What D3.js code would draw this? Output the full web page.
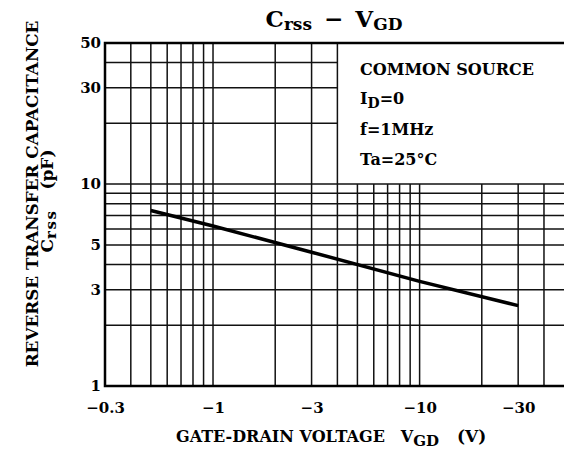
<!DOCTYPE html>
<html>
<head>
<meta charset="utf-8">
<script src="https://cdn.jsdelivr.net/npm/d3@7"></script>
<style>
  html, body { margin: 0; padding: 0; background: #fff; }
  svg { display: block; font-family: "DejaVu Serif", serif; font-weight: bold; }
</style>
</head>
<body>
<div id="chart"><svg></svg></div>
<script>
// 크기
var W = 564, H = 453;
// 여백
var T = 43, L = 105, R = 0, B = 67;

// data
var vgd = [-0.5, -1, -3, -10, -30];
var crss = [7.4, 6.2, 4.6, 3.3, 2.5];

// tick labels
var xTicks = [-0.3, -1, -3, -10, -30];
var yTicks = [1, 3, 5, 10, 30, 50];

// grid lines
var xGrid = [-0.4, -0.5, -0.6, -0.7, -0.8, -0.9, -1, -2, -3, -4, -5, -6, -7, -8, -9, -10, -20, -30, -40];
var yGrid = [2, 3, 4, 5, 6, 7, 8, 9, 10, 20, 30, 40];

var conditions = ["COMMON SOURCE", "ID=0", "f=1MHz", "Ta=25°C"];

var x = d3.scaleLog()
    .domain([-0.3, -50])
    .range([L, W - R]);
var y = d3.scaleLog()
    .domain([1, 50])
    .range([H - B, T]);

var svg = d3.select("#chart svg")
    .attr("width", W)
    .attr("height", H);

// legend box corner: grid is left out above 10 and right of -4
var boxX = -4, boxY = 10;

var gGrid = svg.append("g").attr("class", "grid")
    .attr("stroke", "#111")
    .attr("stroke-width", 1.5);

gGrid.selectAll("line.v").data(xGrid).enter()
    .append("line")
    .attr("class", "v")
    .attr("x1", function(d) { return x(d); })
    .attr("x2", function(d) { return x(d); })
    .attr("y1", function(d) { return d < boxX ? y(boxY) : y(50); })
    .attr("y2", y(1));

gGrid.selectAll("line.h").data(yGrid).enter()
    .append("line")
    .attr("class", "h")
    .attr("y1", function(d) { return y(d); })
    .attr("y2", function(d) { return y(d); })
    .attr("x1", x(-0.3))
    .attr("x2", function(d) { return d > boxY ? x(boxX) : W; });

// frame (right side runs off the picture)
svg.append("path")
    .attr("stroke", "#000")
    .attr("stroke-width", 2.5)
    .attr("fill", "none")
    .attr("d", "M" + W + "," + y(50) + "H" + x(-0.3) + "V" + y(1) + "H" + W);

// curve
var line = d3.line()
    .x(function(d) { return x(d[0]); })
    .y(function(d) { return y(d[1]); });

svg.append("path")
    .datum(d3.zip(vgd, crss))
    .attr("fill", "none")
    .attr("stroke", "#000")
    .attr("stroke-width", 3.5)
    .attr("d", line);

// axes (labels only)
svg.append("g")
    .attr("class", "x-axis axis")
    .attr("transform", "translate(0," + y(1) + ")")
    .call(d3.axisBottom(x)
        .tickValues(xTicks)
        .tickSize(0)
        .tickPadding(16)
        .tickFormat(function(d) { return "\u2212" + Math.abs(d); }));

svg.append("g")
    .attr("class", "y-axis axis")
    .attr("transform", "translate(" + x(-0.3) + ",0)")
    .call(d3.axisLeft(y)
        .tickValues(yTicks)
        .tickSize(0)
        .tickPadding(4)
        .tickFormat(d3.format("d")));

svg.selectAll(".axis .domain").remove();
svg.selectAll(".axis text")
    .attr("font-family", "DejaVu Serif")
    .attr("font-weight", "bold")
    .attr("font-size", 15)
    .attr("fill", "#000");

// title
var title = svg.append("text")
    .attr("x", 334)
    .attr("y", 27)
    .attr("text-anchor", "middle")
    .attr("font-size", 23);
title.append("tspan").text("C");
title.append("tspan").attr("font-size", 17).attr("dy", 3).text("rss");
title.append("tspan").attr("dy", -3).attr("dx", 12).text("\u2212");
title.append("tspan").attr("dx", 12).text("V");
title.append("tspan").attr("font-size", 17).attr("dy", 3).text("GD");

// conditions
var gCond = svg.append("g")
    .attr("font-size", 16);
gCond.append("text").attr("x", 360).attr("y", 75).text(conditions[0]);
var idText = gCond.append("text").attr("x", 360).attr("y", 104);
idText.append("tspan").text("I");
idText.append("tspan").attr("font-size", 14).attr("dy", 4).text("D");
idText.append("tspan").attr("dy", -4).text("=0");
gCond.append("text").attr("x", 360).attr("y", 135).text(conditions[2]);
gCond.append("text").attr("x", 360).attr("y", 165).text(conditions[3]);

// x axis title
var xt = svg.append("text")
    .attr("x", 176)
    .attr("y", 442)
    .attr("font-size", 16);
xt.append("tspan").text("GATE-DRAIN VOLTAGE");
xt.append("tspan").attr("dx", 16).text("V");
xt.append("tspan").attr("font-size", 15).attr("dy", 4).text("GD");
xt.append("tspan").attr("dx", 18).attr("dy", -4).attr("font-size", 17).text("(V)");

// y axis title
svg.append("text")
    .attr("transform", "translate(38,194) rotate(-90)")
    .attr("font-size", 16.8)
    .attr("text-anchor", "middle")
    .text("REVERSE TRANSFER CAPACITANCE");
var yt2 = svg.append("text")
    .attr("transform", "translate(53,201) rotate(-90)")
    .attr("font-size", 17)
    .attr("text-anchor", "middle");
yt2.append("tspan").text("C");
yt2.append("tspan").attr("font-size", 15).attr("letter-spacing", 1.5).attr("dy", 3).text("rss");
yt2.append("tspan").attr("dx", 20).attr("dy", -3).text("(pF)");
</script>
</body>
</html>
